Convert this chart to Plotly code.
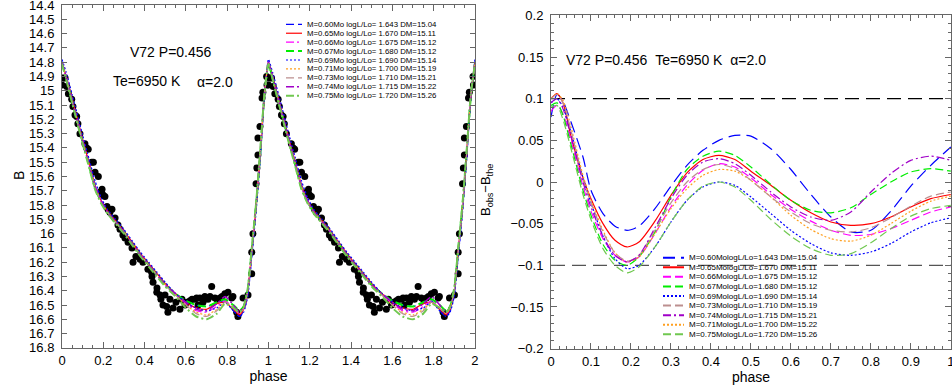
import plotly.graph_objects as go

W, H = 952, 388
FONT = "Liberation Sans, Arial, Helvetica, sans-serif"

# ---- model parameters (mass order) ----
masses = ["0.60", "0.65", "0.66", "0.67", "0.69", "0.71", "0.73", "0.74", "0.75"]
log_l = ["1.643", "1.670", "1.675", "1.680", "1.690", "1.700", "1.710", "1.715", "1.720"]
dm_left = ["15.04", "15.11", "15.12", "15.12", "15.14", "15.19", "15.21", "15.22", "15.26"]

colors = ["#0000ff", "#ff0000", "#ff00ff", "#00ee00", "#0000ff",
          "#ffa020", "#bc8f8f", "#a000c8", "#70c850"]
dash_left = ["8px,4px", "solid", "8px,3px,2px,3px", "8px,4px", "2px,2px",
             "2px,2px", "8px,4px", "8px,3px,2px,3px", "8px,3px,2px,3px"]
width_left = [1.2, 1.2, 1.2, 2.0, 1.2, 1.2, 1.2, 1.5, 2.0]
dash_right = ["12px,6px", "solid", "8px,4px", "8px,4px", "2px,2px",
              "2px,2px", "8px,4px", "8px,3px,2px,3px", "8px,4px"]

# right legend order as printed in the figure (model index) and its DM column
right_order = [0, 1, 2, 3, 4, 6, 7, 5, 8]
dm_right = ["15.04", "15.11", "15.12", "15.12", "15.14", "15.19", "15.21", "15.22", "15.26"]

# ---- left panel: model light curves (B mag), one cycle ----
ph_mod = [0.00, 0.02, 0.05, 0.10, 0.13, 0.16, 0.19, 0.22, 0.26, 0.30,
          0.34, 0.38, 0.42, 0.46, 0.50, 0.55, 0.60, 0.65, 0.70, 0.75,
          0.79, 0.83, 0.86, 0.88, 0.90, 0.92, 0.94, 0.96, 0.98, 1.00]

B_060 = [14.80, 14.90, 15.06, 15.34, 15.50, 15.66, 15.77, 15.84, 15.91, 15.98,
         16.06, 16.14, 16.21, 16.28, 16.35, 16.42, 16.47, 16.50, 16.51, 16.49,
         16.47, 16.54, 16.58, 16.54, 16.43, 16.14, 15.84, 15.47, 15.06, 14.80]
B_065 = [14.80, 14.90, 15.06, 15.34, 15.50, 15.66, 15.77, 15.84, 15.91, 15.98,
         16.06, 16.14, 16.21, 16.28, 16.35, 16.42, 16.48, 16.52, 16.53, 16.49,
         16.48, 16.53, 16.57, 16.53, 16.41, 16.12, 15.82, 15.45, 15.05, 14.80]
B_066 = [14.80, 14.90, 15.07, 15.35, 15.51, 15.67, 15.77, 15.85, 15.92, 15.99,
         16.07, 16.15, 16.22, 16.29, 16.36, 16.43, 16.49, 16.54, 16.55, 16.51,
         16.47, 16.52, 16.56, 16.52, 16.40, 16.11, 15.81, 15.44, 15.04, 14.80]
B_067 = [14.81, 14.91, 15.08, 15.36, 15.52, 15.68, 15.78, 15.85, 15.92, 15.99,
         16.07, 16.15, 16.22, 16.29, 16.36, 16.42, 16.47, 16.50, 16.51, 16.48,
         16.46, 16.50, 16.54, 16.51, 16.39, 16.10, 15.80, 15.44, 15.04, 14.81]
B_069 = [14.78, 14.87, 15.03, 15.31, 15.47, 15.63, 15.75, 15.83, 15.90, 15.97,
         16.05, 16.13, 16.20, 16.27, 16.34, 16.42, 16.48, 16.52, 16.54, 16.52,
         16.48, 16.54, 16.58, 16.55, 16.44, 16.15, 15.85, 15.48, 15.06, 14.78]
B_071 = [14.80, 14.90, 15.07, 15.35, 15.51, 15.67, 15.78, 15.85, 15.92, 15.99,
         16.07, 16.15, 16.22, 16.29, 16.36, 16.43, 16.50, 16.55, 16.57, 16.53,
         16.48, 16.52, 16.56, 16.52, 16.40, 16.11, 15.81, 15.44, 15.04, 14.80]
B_073 = [14.80, 14.91, 15.08, 15.36, 15.52, 15.68, 15.78, 15.85, 15.92, 15.99,
         16.07, 16.15, 16.22, 16.29, 16.36, 16.43, 16.50, 16.56, 16.58, 16.54,
         16.48, 16.52, 16.56, 16.52, 16.40, 16.11, 15.81, 15.44, 15.04, 14.80]
B_074 = [14.80, 14.90, 15.07, 15.35, 15.51, 15.67, 15.77, 15.85, 15.92, 15.99,
         16.07, 16.15, 16.22, 16.29, 16.36, 16.42, 16.48, 16.53, 16.54, 16.49,
         16.44, 16.50, 16.55, 16.51, 16.39, 16.10, 15.80, 15.43, 15.03, 14.80]
B_075 = [14.81, 14.92, 15.09, 15.37, 15.53, 15.69, 15.79, 15.86, 15.93, 16.00,
         16.08, 16.16, 16.23, 16.30, 16.37, 16.44, 16.52, 16.58, 16.60, 16.56,
         16.49, 16.52, 16.55, 16.51, 16.38, 16.09, 15.79, 15.42, 15.03, 14.81]
model_B = [B_060, B_065, B_066, B_067, B_069, B_071, B_073, B_074, B_075]

# ---- observed points (phase, B), one cycle ----
obs_phase = [0.000, 0.006, 0.015, 0.023, 0.031, 0.047, 0.053, 0.063, 0.071, 0.077,
             0.087, 0.111, 0.120, 0.127, 0.144, 0.152, 0.160, 0.176, 0.184, 0.192,
             0.194, 0.199, 0.208, 0.218, 0.223, 0.232, 0.242, 0.257, 0.271, 0.281,
             0.295, 0.305, 0.320, 0.339, 0.344, 0.358, 0.378, 0.392, 0.416, 0.434,
             0.436, 0.441, 0.459, 0.460, 0.475, 0.479, 0.489, 0.499, 0.507, 0.513,
             0.523, 0.538, 0.552, 0.571, 0.581, 0.596, 0.605, 0.620, 0.630, 0.644,
             0.652, 0.659, 0.668, 0.683, 0.692, 0.707, 0.717, 0.725, 0.741, 0.751,
             0.765, 0.775, 0.789, 0.804, 0.822, 0.828, 0.846, 0.852, 0.877, 0.901,
             0.919, 0.919, 0.925, 0.940, 0.944, 0.949, 0.949, 0.959, 0.969, 0.973,
             0.991, 0.993]
obs_B = [14.96, 14.91, 14.91, 14.97, 15.02, 15.06, 15.11, 15.17, 15.18, 15.23,
         15.30, 15.37, 15.40, 15.41, 15.50, 15.50, 15.57, 15.60, 15.71, 15.71,
         15.69, 15.73, 15.74, 15.81, 15.83, 15.85, 15.83, 15.89, 15.94, 15.97,
         16.01, 16.03, 16.06, 16.10, 16.20, 16.16, 16.18, 16.20, 16.25, 16.27,
         16.30, 16.34, 16.41, 16.38, 16.43, 16.46, 16.50, 16.43, 16.51, 16.55,
         16.46, 16.52, 16.48, 16.53, 16.46, 16.50, 16.48, 16.47, 16.46, 16.46,
         16.45, 16.50, 16.45, 16.48, 16.44, 16.46, 16.44, 16.37, 16.45, 16.46,
         16.45, 16.44, 16.42, 16.41, 16.45, 16.44, 16.55, 16.58, 16.45, 16.43,
         16.28, 16.13, 16.00, 15.65, 15.54, 15.45, 15.33, 15.25, 15.05, 15.01,
         14.90, 14.96]

# ---- right panel: residuals B_obs - B_the ----
ph_res = [0.0, 0.015, 0.03, 0.05, 0.08, 0.1, 0.13, 0.16, 0.19, 0.22, 0.26, 0.3, 0.34, 0.38,
          0.42, 0.46, 0.5, 0.55, 0.6, 0.65, 0.7, 0.75, 0.8, 0.85, 0.9, 0.95, 1.0]
r_060 = [0.078, 0.105, 0.097, 0.072, 0.030, -0.010, -0.038, -0.053, -0.058, -0.053, -0.032, -0.005, 0.020, 0.038,
         0.050, 0.056, 0.055, 0.040, 0.015, -0.015, -0.042, -0.060, -0.058, -0.035, -0.005, 0.020, 0.042]
r_065 = [0.100, 0.106, 0.095, 0.055, 0.005, -0.020, -0.050, -0.070, -0.078, -0.072, -0.047, -0.016, 0.011, 0.027,
         0.032, 0.027, 0.013, -0.004, -0.022, -0.037, -0.048, -0.052, -0.050, -0.042, -0.030, -0.020, -0.015]
r_066 = [0.085, 0.092, 0.082, 0.050, -0.005, -0.035, -0.068, -0.088, -0.096, -0.090, -0.062, -0.030, -0.004, 0.014,
         0.022, 0.018, 0.005, -0.015, -0.033, -0.047, -0.058, -0.064, -0.063, -0.056, -0.046, -0.036, -0.030]
r_067 = [0.092, 0.095, 0.080, 0.045, -0.010, -0.040, -0.075, -0.094, -0.100, -0.090, -0.060, -0.018, 0.015, 0.031,
         0.037, 0.032, 0.018, -0.003, -0.022, -0.034, -0.037, -0.031, -0.015, 0.000, 0.012, 0.016, 0.013]
r_069 = [0.095, 0.100, 0.090, 0.060, 0.005, -0.025, -0.065, -0.092, -0.104, -0.100, -0.078, -0.048, -0.022, -0.006,
         0.000, -0.004, -0.018, -0.038, -0.058, -0.074, -0.085, -0.088, -0.084, -0.074, -0.060, -0.049, -0.043]
r_071 = [0.100, 0.106, 0.098, 0.066, 0.008, -0.022, -0.058, -0.085, -0.096, -0.090, -0.062, -0.032, -0.008, 0.008,
         0.015, 0.013, 0.002, -0.018, -0.040, -0.057, -0.068, -0.071, -0.064, -0.050, -0.035, -0.023, -0.017]
r_073 = [0.100, 0.105, 0.095, 0.062, 0.003, -0.025, -0.060, -0.085, -0.095, -0.088, -0.058, -0.025, 0.000, 0.015,
         0.021, 0.016, 0.002, -0.018, -0.036, -0.050, -0.058, -0.060, -0.055, -0.043, -0.029, -0.017, -0.012]
r_074 = [0.095, 0.100, 0.088, 0.055, 0.000, -0.030, -0.065, -0.088, -0.096, -0.088, -0.055, -0.020, 0.008, 0.024,
         0.028, 0.022, 0.008, -0.012, -0.030, -0.042, -0.046, -0.036, -0.012, 0.010, 0.026, 0.031, 0.026]
r_075 = [0.090, 0.092, 0.075, 0.040, -0.015, -0.045, -0.080, -0.100, -0.109, -0.102, -0.078, -0.048, -0.022, -0.005,
         0.000, -0.006, -0.022, -0.045, -0.065, -0.080, -0.088, -0.086, -0.073, -0.056, -0.041, -0.032, -0.028]
model_res = [r_060, r_065, r_066, r_067, r_069, r_071, r_073, r_074, r_075]

ref_levels = [0.1, -0.1]
ref_colors = ["#000000", "#555555"]

fig = go.Figure()

# observed points, plotted over two cycles
for shift in (0, 1):
    fig.add_trace(go.Scatter(
        x=[p + shift for p in obs_phase], y=obs_B, mode="markers",
        marker=dict(size=7, color="black"), xaxis="x", yaxis="y",
        showlegend=False, hoverinfo="skip"))

# model light curves, two cycles
for i, B in enumerate(model_B):
    xs = ph_mod + [p + 1 for p in ph_mod[1:]]
    ys = B + B[1:]
    fig.add_trace(go.Scatter(
        x=xs, y=ys, mode="lines", xaxis="x", yaxis="y",
        line=dict(color=colors[i], dash=dash_left[i], width=width_left[i],
                  shape="spline", smoothing=0.5),
        showlegend=False, hoverinfo="skip"))

# reference levels on residual panel
for lev, c in zip(ref_levels, ref_colors):
    fig.add_trace(go.Scatter(
        x=[0, 1], y=[lev, lev], mode="lines", xaxis="x2", yaxis="y2",
        line=dict(color=c, dash="14px,7px", width=1.2),
        showlegend=False, hoverinfo="skip"))

# residual curves
for i, r in enumerate(model_res):
    fig.add_trace(go.Scatter(
        x=ph_res, y=r, mode="lines", xaxis="x2", yaxis="y2",
        line=dict(color=colors[i], dash=dash_right[i], width=1.2,
                  shape="spline", smoothing=0.7),
        showlegend=False, hoverinfo="skip"))

# hand-made legends (plotly legend rows are too tall for this layout)
shapes = []
annots = []
for row in range(9):
    i = row
    yy = 1 - (24.3 + 8.93 * row) / H
    shapes.append(dict(type="line", xref="paper", yref="paper",
                       x0=286 / W, x1=302 / W, y0=yy, y1=yy,
                       line=dict(color=colors[i], dash=dash_left[i], width=width_left[i])))
    annots.append(dict(xref="paper", yref="paper", x=305 / W, y=yy,
                       xanchor="left", yanchor="middle", showarrow=False,
                       text=f"M={masses[i]}Mo logL/Lo= {log_l[i]} DM={dm_left[i]}",
                       font=dict(size=7.8, family=FONT)))
for row, i in enumerate(right_order):
    yy = 1 - (257.7 + 9.58 * row) / H
    shapes.append(dict(type="line", xref="paper", yref="paper",
                       x0=663 / W, x1=684 / W, y0=yy, y1=yy,
                       line=dict(color=colors[i], dash=dash_right[i], width=2)))
    annots.append(dict(xref="paper", yref="paper", x=687 / W, y=yy,
                       xanchor="left", yanchor="middle", showarrow=False,
                       text=f"M={masses[i]}MologL/Lo={log_l[i]} DM={dm_right[row]}",
                       font=dict(size=8, family=FONT)))

# panel labels
nb = "\u00a0"
annots += [
    dict(xref="paper", yref="paper", x=128 / W, y=1 - 42 / H, xanchor="left",
         text="V72 P=0.456", showarrow=False, font=dict(size=14)),
    dict(xref="paper", yref="paper", x=111 / W, y=1 - 71 / H, xanchor="left",
         text="Te=6950 K", showarrow=False, font=dict(size=14)),
    dict(xref="paper", yref="paper", x=195 / W, y=1 - 72 / H, xanchor="left",
         text="α=2.0", showarrow=False, font=dict(size=14)),
    dict(xref="paper", yref="paper", x=564 / W, y=1 - 50 / H, xanchor="left",
         text=f"V72 P=0.456{nb}{nb}Te=6950 K{nb}{nb}α=2.0",
         showarrow=False, font=dict(size=14)),
    dict(xref="paper", yref="paper", x=9 / W, y=1 - 176 / H, text="B",
         textangle=-90, showarrow=False, font=dict(size=14)),
    dict(xref="paper", yref="paper", x=486 / W, y=1 - 190 / H,
         text="B<sub>obs</sub>\u2212B<sub>the</sub>",
         textangle=-90, showarrow=False, font=dict(size=13)),
]

axis_common = dict(showline=True, linecolor="#666666", linewidth=1, mirror="allticks",
                   ticks="inside", tickcolor="#666666", showgrid=False, zeroline=False,
                   tickfont=dict(size=13, color="black"), automargin=False,
                   ticklabeloverflow="allow")

fig.update_layout(
    width=W, height=H, margin=dict(l=0, r=0, t=0, b=0),
    plot_bgcolor="white", paper_bgcolor="white", showlegend=False,
    font=dict(family=FONT, size=13, color="black"),
    shapes=shapes, annotations=annots,
    xaxis=dict(domain=[62 / W, 475 / W], range=[0, 2.0005], anchor="y",
               tick0=0, dtick=0.2, ticklen=6,
               minor=dict(dtick=0.05, ticklen=3, ticks="inside", tickcolor="#666666"),
               title=dict(text="phase", font=dict(size=14), standoff=1),
               **axis_common),
    yaxis=dict(domain=[1 - 348 / H, 1 - 5 / H], range=[16.8005, 14.3995], anchor="x",
               tick0=14.4, dtick=0.1, ticklen=5, ticklabelstandoff=4,
               **axis_common),
    xaxis2=dict(domain=[551 / W, 951 / W], range=[0, 1.0005], anchor="y2",
                tick0=0, dtick=0.1, ticklen=6,
                minor=dict(dtick=0.02, ticklen=3, ticks="inside", tickcolor="#666666"),
                title=dict(text="phase", font=dict(size=14), standoff=1),
                **axis_common),
    yaxis2=dict(domain=[1 - 349 / H, 1 - 15 / H], range=[-0.2005, 0.2005], anchor="x2",
                tick0=0, dtick=0.05, ticklen=6, ticklabelstandoff=4,
                minor=dict(dtick=0.01, ticklen=3, ticks="inside", tickcolor="#666666"),
                **axis_common),
)

# page body has a default 8px margin; drop it so the figure sits at the window origin
fig.write_html("out.html", config={"displayModeBar": False},
               post_script="document.body.style.margin='0';")
